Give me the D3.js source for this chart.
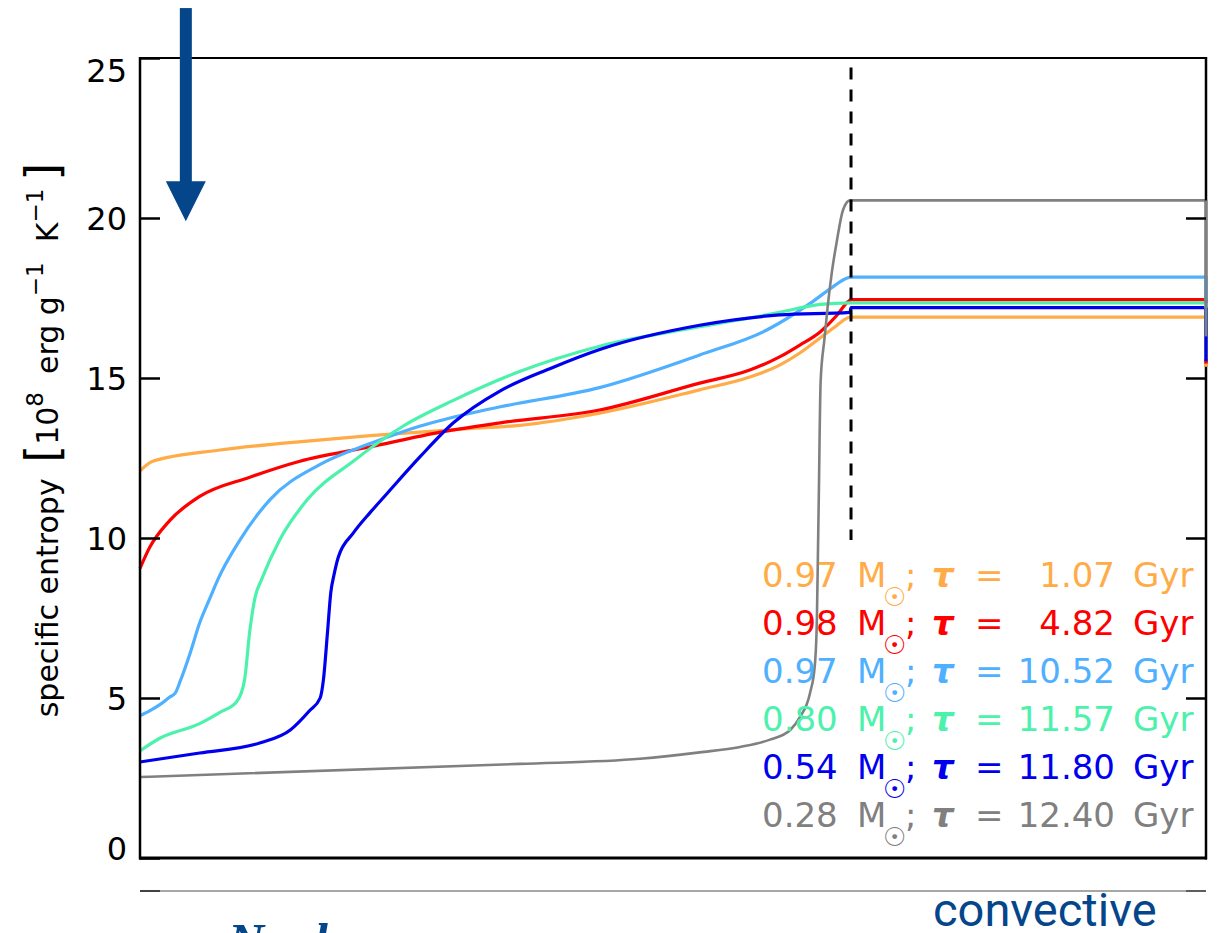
<!DOCTYPE html>
<html>
<head>
<meta charset="utf-8">
<script src="https://cdn.jsdelivr.net/npm/d3@7"></script>
<style>
  html, body { margin: 0; padding: 0; background: #ffffff; }
  svg { display: block; }
</style>
</head>
<body>
<svg id="chart" width="1223" height="933"></svg>
<script>
// Specific entropy profiles against normalised mass coordinate (centre -> surface)

// --- data -----------------------------------------------------------------
const masses = ["0.97", "0.98", "0.97", "0.80", "0.54", "0.28"];
const ages   = ["1.07", "4.82", "10.52", "11.57", "11.80", "12.40"];
const yTicks = [0, 5, 10, 15, 20, 25];

// 0.97 Msun, 1.07 Gyr
const xA = [0, 0.012, 0.075, 0.138, 0.216, 0.300, 0.356, 0.431, 0.525, 0.572, 0.600, 0.619, 0.638, 0.654, 0.664, 0.667, 1];
const sA = [12.1, 12.4, 12.75, 12.97, 13.2, 13.4, 13.52, 13.9, 14.63, 15.03, 15.4, 15.78, 16.25, 16.65, 16.88, 16.9, 16.9];
// 0.98 Msun, 4.82 Gyr
const xB = [0, 0.009, 0.028, 0.056, 0.103, 0.150, 0.216, 0.281, 0.338, 0.431, 0.525, 0.572, 0.600, 0.619, 0.638, 0.654, 0.664, 0.667, 1];
const sB = [9.05, 9.7, 10.55, 11.3, 11.9, 12.4, 12.85, 13.3, 13.6, 14.0, 14.84, 15.25, 15.66, 16.03, 16.44, 16.97, 17.38, 17.45, 17.45];
// 0.97 Msun, 10.52 Gyr
const xC = [0, 0.009, 0.019, 0.028, 0.033, 0.038, 0.047, 0.056, 0.066, 0.073, 0.094, 0.122, 0.169, 0.216, 0.263, 0.310, 0.338, 0.431, 0.525, 0.588, 0.629, 0.650, 0.663, 0.667, 1];
const sC = [4.45, 4.6, 4.8, 5.03, 5.15, 5.55, 6.4, 7.35, 8.15, 8.7, 9.95, 11.2, 12.3, 12.95, 13.5, 13.9, 14.1, 14.7, 15.72, 16.5, 17.34, 17.85, 18.12, 18.15, 18.15];
// 0.80 Msun, 11.57 Gyr
const xD = [0, 0.019, 0.056, 0.075, 0.091, 0.098, 0.103, 0.108, 0.114, 0.131, 0.157, 0.200, 0.247, 0.294, 0.356, 0.432, 0.525, 0.600, 0.638, 0.667, 1];
const sD = [3.35, 3.75, 4.2, 4.55, 4.9, 5.55, 7.1, 8.15, 8.7, 9.94, 11.2, 12.4, 13.5, 14.3, 15.2, 16.0, 16.6, 17.05, 17.3, 17.35, 17.35];
// 0.54 Msun, 11.80 Gyr
const xE = [0, 0.056, 0.113, 0.141, 0.159, 0.169, 0.172, 0.176, 0.179, 0.182, 0.186, 0.200, 0.216, 0.232, 0.263, 0.294, 0.338, 0.385, 0.432, 0.525, 0.600, 0.666, 0.667, 1];
const sE = [3.0, 3.28, 3.6, 4.0, 4.6, 5.0, 5.55, 7.1, 8.3, 8.85, 9.4, 10.15, 10.8, 11.4, 12.55, 13.6, 14.6, 15.3, 15.9, 16.65, 16.97, 17.05, 17.2, 17.2];
// 0.28 Msun, 12.40 Gyr
const xF = [0, 0.356, 0.469, 0.525, 0.563, 0.591, 0.610, 0.619, 0.6285, 0.633, 0.635, 0.636, 0.637, 0.6375, 0.6385, 0.642, 0.645, 0.649, 0.6538, 0.6595, 0.666, 1];
const sF = [2.53, 2.94, 3.1, 3.3, 3.47, 3.7, 4.0, 4.4, 5.15, 6.0, 7.5, 9.6, 11.8, 13.1, 14.9, 16.2, 17.2, 18.3, 19.3, 20.25, 20.55, 20.55];

// entropy reached where each profile runs down the outer boundary
const surfaceEnd = [15.35, 15.45, 16.5, 15.6, 15.52, 16.3];

// boundary of the convective envelope (mass coordinate) and its marker extent
const boundaryX = 0.667;
const boundaryRange = [9.94, 24.7];

// --- styling ----------------------------------------------------------------
const colors = ["#ffab47", "#ff0000", "#4fb0ff", "#4cf2ab", "#0000ee", "#808080"];
const widths = [3.2, 3.2, 3.2, 3.2, 3.2, 2.6];
const accent = "#05468b";

const seriesX = [xA, xB, xC, xD, xE, xF];
const seriesS = [sA, sB, sC, sD, sE, sF];

const svg = d3.select("#chart");
const W = 1223, H = 933;
const plot = { left: 140, right: 1206, top: 58, bottom: 858 };

const x = d3.scaleLinear().domain([0, 1]).range([plot.left, plot.right]);
const y = d3.scaleLinear().domain([0, 25]).range([plot.bottom, plot.top]);

svg.append("rect").attr("width", W).attr("height", H).attr("fill", "#fff");

// --- curves -----------------------------------------------------------------
const line = d3.line().x(d => x(d[0])).y(d => y(d[1])).curve(d3.curveMonotoneX);

seriesX.forEach((xs, i) => {
  const pts = xs.map((v, j) => [v, seriesS[i][j]]);
  const d = line(pts) + `L${x(1)},${y(surfaceEnd[i])}`;
  svg.append("path")
    .attr("d", d)
    .attr("fill", "none")
    .attr("stroke", colors[i])
    .attr("stroke-width", widths[i])
    .attr("stroke-linejoin", "round");
});

// convective boundary marker
svg.append("line")
  .attr("x1", x(boundaryX)).attr("x2", x(boundaryX))
  .attr("y1", y(boundaryRange[1])).attr("y2", y(boundaryRange[0]))
  .attr("stroke", "#000").attr("stroke-width", 3)
  .attr("stroke-dasharray", "12,10");

// --- frame and axes ---------------------------------------------------------
const frame = svg.append("g");
frame.append("line").attr("x1", x(0)).attr("x2", x(1)).attr("y1", y(25)).attr("y2", y(25))
  .attr("stroke", "#000").attr("stroke-width", 2);
frame.append("line").attr("x1", x(0)).attr("x2", x(0)).attr("y1", y(25) - 1).attr("y2", y(0) + 1.5)
  .attr("stroke", "#000").attr("stroke-width", 2.5);
frame.append("line").attr("x1", x(1)).attr("x2", x(1)).attr("y1", y(25) - 1).attr("y2", y(0) + 1.5)
  .attr("stroke", "#000").attr("stroke-width", 2.5);
frame.append("line").attr("x1", x(0) - 1).attr("x2", x(1) + 1).attr("y1", y(0)).attr("y2", y(0))
  .attr("stroke", "#000").attr("stroke-width", 3);

// profiles' outer drops sit on top of the right axis
seriesX.forEach((xs, i) => {
  const last = seriesS[i][seriesS[i].length - 1];
  svg.append("line")
    .attr("x1", x(1)).attr("x2", x(1))
    .attr("y1", y(last)).attr("y2", y(surfaceEnd[i]))
    .attr("stroke", colors[i]).attr("stroke-width", widths[i]);
});

const leftAxis = d3.axisLeft(y).tickValues(yTicks).tickSizeInner(-20).tickSizeOuter(0).tickPadding(13);
const gl = svg.append("g").attr("transform", `translate(${x(0)},0)`).call(leftAxis);
gl.select(".domain").remove();
gl.selectAll(".tick line").attr("stroke", "#000").attr("stroke-width", 2.5);
gl.selectAll(".tick text")
  .attr("font-family", "DejaVu Sans")
  .attr("font-size", 32)
  .attr("fill", "#000")
  .attr("dy", d => d === 25 ? "0.72em" : d === 0 ? "0.05em" : "0.35em");

const rightAxis = d3.axisRight(y).tickValues(yTicks.filter(v => v > 0 && v < 25)).tickSizeInner(-20).tickSizeOuter(0).tickFormat("");
const gr = svg.append("g").attr("transform", `translate(${x(1)},0)`).call(rightAxis);
gr.select(".domain").remove();
gr.selectAll(".tick line").attr("stroke", "#000").attr("stroke-width", 2.5);

// y axis title
const title = svg.append("text")
  .attr("transform", `translate(58, 440) rotate(-90)`)
  .attr("text-anchor", "middle")
  .attr("font-family", "DejaVu Sans")
  .attr("font-size", 30)
  .attr("fill", "#000");
title.append("tspan").text("specific entropy ");
title.append("tspan").attr("font-size", 46).attr("dx", 6).text("[");
title.append("tspan").text("10");
title.append("tspan").attr("font-size", 23).attr("dy", -15).text("8");
title.append("tspan").attr("dy", 15).attr("dx", 18).text("erg g");
title.append("tspan").attr("font-size", 23).attr("dy", -15).text("−1");
title.append("tspan").attr("dy", 15).attr("dx", 20).text("K");
title.append("tspan").attr("font-size", 23).attr("dy", -15).text("−1");
title.append("tspan").attr("dy", 15).attr("dx", 8).attr("font-size", 46).text("]");

// --- legend -----------------------------------------------------------------
const legendBase = 587, legendStep = 48;
masses.forEach((m, i) => {
  const by = legendBase + i * legendStep;
  const t = svg.append("text")
    .attr("y", by)
    .attr("fill", colors[i])
    .attr("font-family", "DejaVu Sans")
    .attr("font-size", 34);
  t.append("tspan").attr("x", 762).text(m);
  t.append("tspan").attr("x", 857).text("M");
  t.append("tspan").attr("x", 883).attr("dy", 19).attr("font-size", 26).text("☉");
  t.append("tspan").attr("x", 905).attr("dy", -19).text(";");
  t.append("tspan").attr("x", 932).attr("font-weight", "bold").attr("font-style", "italic").text("τ");
  t.append("tspan").attr("x", 975).text("=");
  t.append("tspan").attr("x", 1115).attr("text-anchor", "end").text(ages[i]);
  t.append("tspan").attr("x", 1133).attr("text-anchor", "start").text("Gyr");
});

// --- annotations --------------------------------------------------------------
// downward arrow at the centre
const arrowX = 0.043, arrowTop = 26.56, arrowTip = 19.9, headBase = 21.15;
svg.append("rect")
  .attr("x", x(arrowX) - 6).attr("y", y(arrowTop))
  .attr("width", 12).attr("height", y(headBase) - y(arrowTop) + 1)
  .attr("fill", accent);
svg.append("path")
  .attr("d", `M${x(arrowX) - 20},${y(headBase)}L${x(arrowX) + 20},${y(headBase)}L${x(arrowX)},${y(arrowTip)}Z`)
  .attr("fill", accent);

// edge of the panel below
const lowerEdge = 891;
svg.append("line").attr("x1", x(0)).attr("x2", x(1)).attr("y1", lowerEdge).attr("y2", lowerEdge)
  .attr("stroke", "#8a8a8a").attr("stroke-width", 1.5);
svg.append("line").attr("x1", x(0)).attr("x2", x(0) + 20).attr("y1", lowerEdge).attr("y2", lowerEdge)
  .attr("stroke", "#222").attr("stroke-width", 1.5);
svg.append("line").attr("x1", x(1) - 20).attr("x2", x(1)).attr("y1", lowerEdge).attr("y2", lowerEdge)
  .attr("stroke", "#444").attr("stroke-width", 1.5);

svg.append("text")
  .attr("x", 933).attr("y", 926)
  .attr("font-family", "Roboto").attr("font-size", 47)
  .attr("fill", accent)
  .text("convective");

svg.append("text")
  .attr("x", 228).attr("y", 958)
  .attr("font-family", "Liberation Serif").attr("font-weight", "bold").attr("font-style", "italic")
  .attr("font-size", 50)
  .attr("fill", accent)
  .text("Nuclear");
</script>
</body>
</html>
